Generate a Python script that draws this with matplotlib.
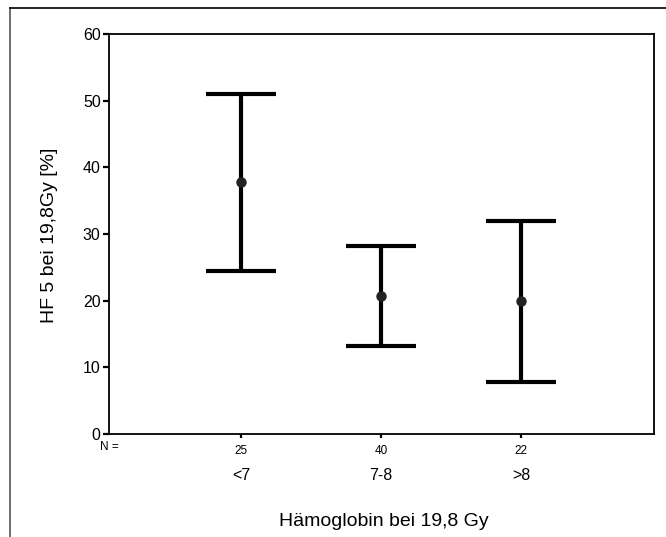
import matplotlib
matplotlib.use("Agg")
import matplotlib.pyplot as plt
from matplotlib.lines import Line2D
from matplotlib.transforms import blended_transform_factory

plt.rcParams['font.family'] = ['Liberation Sans', 'DejaVu Sans']

# Hemoglobin groups, sample sizes and HF 5 mean with 95% CI bounds
groups = ['<7', '7-8', '>8']
n_values = ['25', '40', '22']
means = [37.8, 20.7, 19.95]
upper = [51.0, 28.2, 31.95]
lower = [24.5, 13.2, 7.8]
yticks = [0, 10, 20, 30, 40, 50, 60]

W, H = 666, 537
fig = plt.figure(figsize=(W / 100, H / 100), dpi=100)
ax = fig.add_axes([109 / W, 1 - 434 / H, 545 / W, 400 / H])

pos = [1, 2, 3]
cap = 0.25
ax.vlines(pos, lower, upper, color='black', lw=3.0, zorder=2)
ax.hlines(upper, [p - cap for p in pos], [p + cap for p in pos], color='black', lw=3.0, zorder=2)
ax.hlines(lower, [p - cap for p in pos], [p + cap for p in pos], color='black', lw=3.0, zorder=2)
ax.plot(pos, means, 'o', color='#222222', markersize=6.5, zorder=3)

ax.set_xlim(0.057, 3.95)
ax.set_ylim(0, 60)
ax.set_yticks(yticks)
ax.set_yticklabels([str(v) for v in yticks], fontsize=11.5)
ax.tick_params(axis='y', direction='out', length=4, width=1.6, pad=2)
ax.set_xticks(pos)
ax.set_xticklabels(n_values, fontsize=8.5)
ax.tick_params(axis='x', direction='out', length=3, width=1.6, pad=5)
for s in ax.spines.values():
    s.set_linewidth(1.3)

tr = blended_transform_factory(ax.transData, fig.transFigure)
ax.text(0.057, 1 - 447 / H, 'N =', transform=tr, ha='center', va='center', fontsize=8.5)
for p, g in zip(pos, groups):
    ax.text(p, 1 - 475 / H, g, transform=tr, ha='center', va='center', fontsize=11.5)

fig.text(384 / W, 1 - 522 / H, 'Hämoglobin bei 19,8 Gy', ha='center', va='center', fontsize=14)
fig.text(50 / W, 1 - 235 / H, 'HF 5 bei 19,8Gy [%]', ha='center', va='center',
         rotation=90, fontsize=14)

# outer frame lines
fig.add_artist(Line2D([10 / W, 10 / W], [0, 1 - 8 / H], transform=fig.transFigure,
                      color='#555555', lw=1.2))
fig.add_artist(Line2D([10 / W, 1], [1 - 8 / H, 1 - 8 / H], transform=fig.transFigure,
                      color='black', lw=1.2))

fig.savefig('out.png', dpi=100)
